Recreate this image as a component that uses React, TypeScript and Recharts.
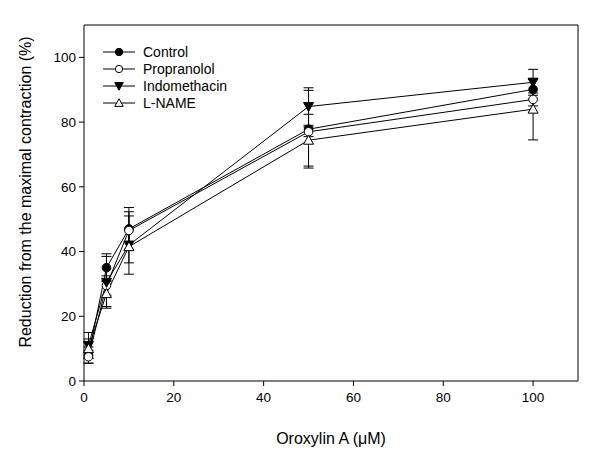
import React from "react";
import {
  ComposedChart,
  Line,
  XAxis,
  YAxis,
  ErrorBar,
  Label,
  ReferenceLine,
} from "recharts";

const doses = [1, 5, 10, 50, 100];
const controlMean = [8, 35, 47, 77.8, 90.1];
const controlErr = [2.5, 4.3, 6.6, 12, 3];
const propranololMean = [7.5, 29.5, 46.5, 77, 87];
const propranololErr = [2, 3, 5.8, 1.5, 2];
const indomethacinMean = [11, 30.5, 42, 84.8, 92.3];
const indomethacinErr = [4, 8, 9, 5.8, 4];
const lnameMean = [10, 27, 41.5, 74.4, 84];
const lnameErr = [3, 4, 5, 8, 9.5];
const xTicks = [0, 20, 40, 60, 80, 100];
const yTicks = [0, 20, 40, 60, 80, 100];

const data = doses.map((d, i) => ({
  dose: d,
  control: controlMean[i],
  controlErr: controlErr[i],
  propranolol: propranololMean[i],
  propranololErr: propranololErr[i],
  indomethacin: indomethacinMean[i],
  indomethacinErr: indomethacinErr[i],
  lname: lnameMean[i],
  lnameErr: lnameErr[i],
}));

const FONT = "'Liberation Sans', Arial, sans-serif";

type Kind = "fillCircle" | "openCircle" | "fillTriDown" | "openTriUp";

function Marker({ kind, cx, cy, s = 1 }: { kind: Kind; cx: number; cy: number; s?: number }) {
  if (kind === "fillCircle")
    return <circle cx={cx} cy={cy} r={4.3 * s} fill="#000" stroke="#000" />;
  if (kind === "openCircle")
    return <circle cx={cx} cy={cy} r={4.3 * s} fill="#fff" stroke="#000" />;
  const a = 5 * s;
  const b = 4 * s;
  if (kind === "fillTriDown")
    return (
      <polygon
        points={`${cx - a},${cy - b} ${cx + a},${cy - b} ${cx},${cy + a}`}
        fill="#000"
        stroke="#000"
      />
    );
  return (
    <polygon
      points={`${cx - a},${cy + b} ${cx + a},${cy + b} ${cx},${cy - a}`}
      fill="#fff"
      stroke="#000"
    />
  );
}

const series: { key: string; name: string; kind: Kind }[] = [
  { key: "control", name: "Control", kind: "fillCircle" },
  { key: "propranolol", name: "Propranolol", kind: "openCircle" },
  { key: "indomethacin", name: "Indomethacin", kind: "fillTriDown" },
  { key: "lname", name: "L-NAME", kind: "openTriUp" },
];

function LegendBox() {
  return (
    <div
      style={{
        position: "absolute",
        left: 101,
        top: 43,
        fontFamily: FONT,
        fontSize: 14,
        color: "#000",
      }}
    >
      {series.map((s) => (
        <div key={s.key} style={{ display: "flex", alignItems: "center", height: 17 }}>
          <svg width={36} height={14}>
            <line x1={2} y1={7} x2={34} y2={7} stroke="#000" />
            <Marker kind={s.kind} cx={18} cy={7} s={0.85} />
          </svg>
          <span style={{ marginLeft: 6 }}>{s.name}</span>
        </div>
      ))}
    </div>
  );
}

export default function App() {
  return (
    <div style={{ position: "absolute", left: 0, top: 0, width: 600, height: 450, background: "#fff" }}>
      <ComposedChart
        width={600}
        height={450}
        data={data}
        margin={{ top: 25, right: 22, bottom: 0, left: 0 }}
      >
        <XAxis
          dataKey="dose"
          type="number"
          domain={[0, 110]}
          ticks={xTicks}
          height={69}
          stroke="#000"
          tickSize={5}
          tick={{ fill: "#000", fontSize: 13.5, fontFamily: FONT }}
          tickMargin={6}
        >
          <Label
            value="Oroxylin A (μM)"
            position="insideBottom"
            offset={6}
            style={{ fill: "#000", fontSize: 16, fontFamily: FONT }}
          />
        </XAxis>
        <YAxis
          type="number"
          domain={[0, 110]}
          ticks={yTicks}
          width={84}
          stroke="#000"
          tickSize={5}
          tick={{ fill: "#000", fontSize: 13.5, fontFamily: FONT }}
          tickMargin={3}
        >
          <Label
            content={() => (
              <text
                x={27}
                y={192}
                transform="rotate(-90 27 192)"
                textAnchor="middle"
                dominantBaseline="middle"
                style={{ fill: "#000", fontSize: 16, fontFamily: FONT }}
              >
                Reduction from the maximal contraction (%)
              </text>
            )}
          />
        </YAxis>
        <ReferenceLine y={110} stroke="#000" strokeWidth={1} ifOverflow="visible" />
        <ReferenceLine x={110} stroke="#000" strokeWidth={1} ifOverflow="visible" />
        {series.map((s) => (
          <Line
            key={s.key}
            dataKey={s.key}
            name={s.name}
            stroke="#000"
            strokeWidth={1}
            isAnimationActive={false}
            dot={(p: any) => (
              <Marker key={`${s.key}-${p.index}`} kind={s.kind} cx={p.cx} cy={p.cy} />
            )}
            activeDot={false}
          >
            <ErrorBar
              dataKey={`${s.key}Err`}
              direction="y"
              width={5}
              stroke="#000"
              strokeWidth={1}
            />
          </Line>
        ))}
      </ComposedChart>
      <LegendBox />
    </div>
  );
}
